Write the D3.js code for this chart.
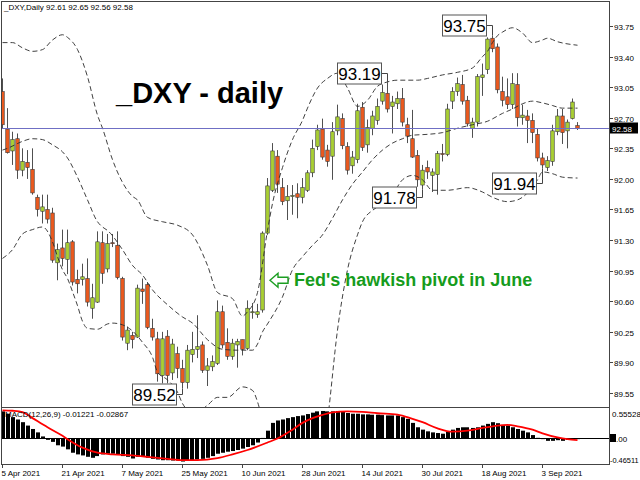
<!DOCTYPE html>
<html><head><meta charset="utf-8">
<script src="https://cdn.jsdelivr.net/npm/d3@7"></script>
<style>body{margin:0;background:#fff}svg{display:block}text{font-family:"Liberation Sans",Arial,sans-serif}</style>
</head><body><svg id="c" width="640" height="480"></svg>
<script>
// ---------- DATA ----------
const opens  = [93.00,92.57,92.32,92.46,92.10,92.19,92.11,91.79,91.63,91.65,91.61,91.04,91.21,91.08,91.28,90.85,90.85,90.86,90.52,90.59,91.27,90.97,91.27,91.24,90.86,90.12,90.21,90.19,90.74,90.79,90.29,90.17,89.75,90.20,89.78,90.00,89.83,89.67,89.99,90.05,90.10,89.81,89.85,89.89,90.48,90.13,89.97,90.10,90.16,90.06,90.48,90.45,90.50,91.38,91.87,92.26,91.90,91.75,91.80,91.83,91.79,91.87,92.07,92.37,92.57,92.33,92.26,92.55,92.69,92.37,92.15,92.22,92.82,92.39,92.58,92.67,92.89,92.98,92.83,92.86,92.92,92.62,92.46,92.27,91.93,92.13,92.04,92.05,92.29,92.28,92.89,93.00,93.08,92.90,92.58,92.65,93.16,93.25,93.61,93.51,93.00,92.94,92.85,93.08,92.70,92.72,92.67,92.51,92.24,92.13,92.20,92.54,92.72,92.55,92.69,92.61];
const highs  = [93.15,92.81,92.54,92.52,92.35,92.33,92.35,91.82,91.82,91.82,91.67,91.26,91.42,91.42,91.30,90.96,91.03,91.09,90.80,91.40,91.40,91.37,91.37,91.40,90.88,90.31,90.25,90.79,90.86,90.82,90.40,90.25,90.25,90.27,90.17,90.08,89.93,90.10,90.25,90.44,90.14,89.95,89.98,90.61,90.55,90.29,90.17,90.17,90.16,90.61,90.58,90.57,91.40,92.01,92.41,92.33,92.01,91.93,91.93,91.95,92.01,92.10,92.45,92.62,92.69,92.39,92.65,92.85,92.75,92.42,92.32,92.86,92.88,92.68,92.78,92.92,93.08,93.10,92.95,93.00,93.04,92.70,92.79,92.33,92.16,92.21,92.12,92.32,92.40,92.86,93.05,93.16,93.19,92.95,92.70,93.20,93.32,93.62,93.64,93.55,93.17,93.15,93.21,93.21,92.85,92.79,92.75,92.58,92.30,92.26,92.62,92.80,92.80,92.68,92.92,92.65];
const lows   = [92.58,92.29,92.16,92.00,92.03,92.00,91.82,91.57,91.49,91.49,91.04,90.84,91.00,90.91,90.78,90.69,90.78,90.54,90.40,90.58,90.80,90.93,91.22,90.85,90.15,90.04,90.06,90.18,90.57,90.28,90.15,89.68,89.66,89.66,89.70,89.72,89.60,89.60,89.90,89.95,89.78,89.63,89.80,89.87,90.06,89.93,89.93,89.84,89.98,90.04,90.40,90.41,90.47,91.36,91.85,91.84,91.70,91.53,91.59,91.55,91.72,91.85,92.02,92.33,92.22,92.14,91.99,92.50,92.34,92.05,92.06,92.18,92.32,92.30,92.50,92.62,92.85,92.76,92.52,92.80,92.60,92.41,92.24,91.91,91.88,92.00,91.85,91.82,92.20,92.26,92.80,92.95,92.85,92.60,92.47,92.60,92.95,93.20,93.45,92.98,92.83,92.80,92.80,92.60,92.62,92.41,92.41,92.20,92.12,92.09,92.15,92.50,92.40,92.35,92.68,92.56];
const closes = [92.62,92.30,92.45,92.10,92.20,92.13,91.84,91.65,91.68,91.54,91.07,91.19,91.09,91.27,90.82,90.80,90.88,90.59,90.64,91.28,90.92,91.26,91.26,90.87,90.19,90.27,90.16,90.75,90.71,90.30,90.19,89.77,90.17,89.75,90.11,89.83,89.67,90.04,90.05,90.08,89.81,89.86,89.91,90.48,90.10,89.97,90.12,90.14,90.05,90.52,90.48,90.48,91.38,91.92,92.32,91.94,91.74,91.80,91.81,91.79,91.90,92.07,92.35,92.56,92.25,92.20,92.54,92.71,92.38,92.10,92.25,92.78,92.36,92.59,92.72,92.83,92.99,92.80,92.88,92.92,92.65,92.49,92.25,91.99,92.10,92.08,92.08,92.29,92.28,92.80,93.00,93.09,92.89,92.63,92.65,93.17,93.19,93.60,93.49,93.02,92.90,92.85,93.09,92.70,92.73,92.67,92.53,92.24,92.16,92.21,92.55,92.72,92.53,92.65,92.88,92.58];

// Bollinger bands (20,2): [bar, price]
const bbUpper = [[0,93.56],[2,93.56],[4,93.50],[6,93.46],[8,93.48],[10,93.59],[12,93.65],[13,93.62],[15,93.48],[17,93.17],[19,92.73],[20,92.58],[22,92.22],[24,91.96],[26,91.80],[27,91.76],[29,91.56],[32,91.51],[35,91.47],[38,91.36],[41,91.01],[43,90.70],[46,90.63],[48,90.43],[49,90.48],[51,90.70],[53,91.41],[54,91.72],[56,92.13],[58,92.45],[60,92.67],[61,92.81],[63,93.04],[65,93.15],[67,93.21],[69,93.04],[71,92.83],[73,92.90],[75,93.06],[77,93.11],[79,93.13],[83,93.13],[85,93.15],[88,93.19],[91,93.22],[94,93.27],[96,93.40],[97,93.46],[98,93.56],[99,93.64],[100,93.68],[102,93.73],[104,93.67],[106,93.56],[108,93.59],[109,93.61],[111,93.57],[115,93.53]];
const bbMiddle = [[0,92.33],[1,92.35],[4,92.43],[6,92.46],[8,92.45],[10,92.39],[12,92.31],[13,92.24],[15,92.02],[17,91.76],[19,91.51],[20,91.45],[21,91.41],[24,91.19],[26,91.01],[28,90.90],[30,90.73],[33,90.56],[36,90.42],[38,90.35],[41,90.16],[44,90.05],[47,90.04],[50,90.04],[51,90.11],[52,90.25],[53,90.34],[56,90.65],[58,90.96],[60,91.11],[62,91.24],[64,91.36],[66,91.55],[68,91.76],[70,91.94],[72,92.08],[74,92.22],[76,92.33],[78,92.41],[80,92.46],[82,92.50],[85,92.51],[88,92.53],[91,92.58],[94,92.62],[97,92.66],[100,92.75],[102,92.80],[104,92.86],[106,92.89],[108,92.87],[110,92.84],[112,92.81],[115,92.81]];
const bbLower = [[0,91.09],[2,91.19],[4,91.37],[6,91.42],[8,91.45],[10,91.28],[11,91.11],[12,90.96],[13,90.86],[14,90.71],[15,90.55],[16,90.37],[17,90.29],[19,90.28],[21,90.34],[22,90.35],[24,90.33],[26,90.26],[28,90.13],[30,89.96],[31,89.79],[33,89.70],[35,89.56],[36,89.43],[37,89.36],[39,89.34],[41,89.41],[43,89.50],[45,89.50],[48,89.62],[50,89.58],[51,89.45],[52,89.24],[54,88.78],[57,88.10],[60,87.87],[63,88.55],[65,89.24],[67,90.27],[69,90.96],[71,91.36],[72,91.51],[74,91.64],[75,91.68],[78,91.82],[80,91.99],[82,92.04],[84,91.99],[86,91.87],[89,91.87],[93,91.90],[96,91.85],[98,91.79],[101,91.74],[103,91.76],[105,91.84],[107,91.99],[108,92.08],[110,92.06],[112,92.02],[115,92.01]];

// MACD(12,26,9)
const macdMain = [0.494,0.451,0.389,0.346,0.297,0.235,0.173,0.111,0.037,-0.025,
 -0.062,-0.124,-0.148,-0.198,-0.260,-0.290,-0.309,-0.334,-0.352,-0.321,
 -0.290,-0.278,-0.278,-0.290,-0.321,-0.334,-0.365,-0.334,-0.321,-0.352,
 -0.371,-0.383,-0.396,-0.396,-0.402,-0.402,-0.420,-0.402,-0.396,-0.383,
 -0.371,-0.352,-0.321,-0.278,-0.260,-0.241,-0.229,-0.210,-0.185,-0.155,
 -0.124,-0.074,0.010,0.142,0.284,0.328,0.346,0.371,0.389,0.408,
 0.420,0.445,0.470,0.494,0.501,0.494,0.494,0.501,0.482,0.464,
 0.451,0.451,0.439,0.439,0.433,0.433,0.426,0.420,0.420,0.420,
 0.389,0.358,0.284,0.204,0.161,0.130,0.111,0.099,0.087,0.124,
 0.161,0.192,0.204,0.204,0.192,0.204,0.235,0.266,0.297,0.278,
 0.247,0.235,0.204,0.173,0.142,0.111,0.062,0.012,-0.012,-0.043,
 -0.043,-0.031,-0.043,-0.025,-0.012,-0.01221];
const macdSignal = [[0,0.513],[2,0.505],[4,0.482],[6,0.371],[9,0.204],[12,0.049],[13,-0.012],[16,-0.167],[19,-0.260],[22,-0.290],[26,-0.309],[29,-0.334],[33,-0.371],[36,-0.396],[39,-0.396],[43,-0.358],[46,-0.290],[49,-0.210],[53,-0.074],[55,0.0],[58,0.161],[60,0.284],[62,0.370],[64,0.430],[66,0.475],[69,0.494],[72,0.485],[75,0.460],[79,0.435],[82,0.358],[84,0.297],[87,0.185],[90,0.124],[93,0.142],[96,0.192],[99,0.235],[101,0.247],[103,0.222],[106,0.161],[108,0.093],[111,0.019],[113,-0.012],[115,-0.02867]];

const dateTickBars = [0,12,24,36,48,60,72,84,96,108];
const dateTickLabels = ["5 Apr 2021","21 Apr 2021","7 May 2021","25 May 2021","10 Jun 2021","28 Jun 2021","14 Jul 2021","30 Jul 2021","18 Aug 2021","3 Sep 2021"];
const priceTicks = [93.75,93.40,93.05,92.70,92.35,92.00,91.65,91.30,90.95,90.60,90.25,89.90,89.55];
const macdRange = [-0.46511, 0.55528];

const annoValues = [93.75, 93.19, 91.78, 91.94, 89.52];
const annoBars   = [98, 77, 84, 108, 36];
const annoSides  = ["high","high","low","low","low"];
const fedBar = 52, fedPrice = 90.84;
const fedText = "Fed's hawkish pivot in June";
const titleText = "_DXY - daily";
const headerText = "_DXY,Daily  92.61 92.65 92.56 92.58";
const macdText = "MACD(12,26,9) -0.01221 -0.02867";

// ---------- DRAW ----------
const bull = "#a9cf34", bear = "#eb5a1f";
const svg = d3.select("#c");
svg.append("rect").attr("width",640).attr("height",480).attr("fill","#fff");

const x  = d3.scaleLinear().domain([0, 115]).range([2.5, 577.5]);
const y  = d3.scaleLinear().domain([89.55, 93.75]).range([393, 26]);
const ym = d3.scaleLinear().domain(macdRange).range([464, 408]);

const defs = svg.append("defs");
defs.append("clipPath").attr("id","mc").append("rect").attr("x",2).attr("y",2).attr("width",607).attr("height",405);
defs.append("clipPath").attr("id","sc").append("rect").attr("x",2).attr("y",408).attr("width",607).attr("height",56);

const main = svg.append("g").attr("clip-path","url(#mc)");
const idx = d3.range(opens.length);

// candles
main.append("g").selectAll("line").data(idx).join("line")
  .attr("x1",i=>x(i)).attr("x2",i=>x(i))
  .attr("y1",i=>y(highs[i])).attr("y2",i=>y(lows[i]))
  .attr("stroke","#505050").attr("stroke-width",1);
main.append("g").selectAll("rect").data(idx).join("rect")
  .attr("x",i=>x(i)-1.75).attr("width",3.5)
  .attr("y",i=>y(Math.max(opens[i],closes[i])))
  .attr("height",i=>Math.max(1,Math.abs(y(opens[i])-y(closes[i]))))
  .attr("fill",i=>closes[i]>=opens[i]?bull:bear)
  .attr("stroke","#3a3a3a").attr("stroke-width",0.6);

// bands
const bandLine = d3.line().x(d=>x(d[0])).y(d=>y(d[1])).curve(d3.curveMonotoneX);
[bbUpper,bbMiddle,bbLower].forEach(b=>{
  main.append("path").attr("d",bandLine(b)).attr("fill","none")
    .attr("stroke","#2a2a2a").attr("stroke-width",0.9).attr("stroke-dasharray","5,3");
});

// last price line
const lastClose = closes[closes.length-1];
const ly = Math.round(y(lastClose))+0.5;
main.append("line").attr("x1",0).attr("x2",609).attr("y1",ly).attr("y2",ly)
  .attr("stroke","#6f6fc4").attr("stroke-width",1);

// annotations
annoValues.forEach((v,k)=>{
  const b = annoBars[k];
  const bx = x(b);
  const cy = Math.round(y(v)-1.5)+0.5;
  const ext = annoSides[k]==="high" ? y(highs[b]) : y(lows[b]);
  const right = Math.round(bx-7)+0.5;
  const w=44, h=21;
  main.append("path").attr("d",`M${right},${cy}H${bx}V${ext}`).attr("fill","none").attr("stroke","#444").attr("stroke-width",1);
  main.append("rect").attr("x",right-w).attr("y",cy-h/2).attr("width",w).attr("height",h)
    .attr("fill","#fff").attr("stroke","#555").attr("stroke-width",1);
  main.append("text").attr("x",right-w/2).attr("y",cy+6).attr("text-anchor","middle")
    .attr("font-size",17).attr("fill","#000").text(v.toFixed(2));
});

// Fed arrow + text
{
  const tx = x(fedBar)+7.5, ty = y(fedPrice);
  const p = d3.path();
  p.moveTo(tx,ty); p.lineTo(tx+8,ty-7); p.lineTo(tx+8,ty-3); p.lineTo(tx+18,ty-3);
  p.lineTo(tx+18,ty+3); p.lineTo(tx+8,ty+3); p.lineTo(tx+8,ty+7); p.closePath();
  main.append("path").attr("d",p.toString()).attr("fill","#fff").attr("stroke","#1c9e22").attr("stroke-width",1.4);
  main.append("text").attr("x",tx+24).attr("y",ty+6).attr("font-size",18).attr("font-weight","bold")
    .attr("fill","#169c1c").text(fedText);
}

// title
svg.append("text").attr("x",116).attr("y",103).attr("font-size",29).attr("font-weight","bold").attr("fill","#000").text(titleText);
svg.append("text").attr("x",4).attr("y",10).attr("font-size",8).attr("fill","#000").text(headerText);

// MACD panel
const sub = svg.append("g").attr("clip-path","url(#sc)");
sub.append("g").selectAll("rect").data(idx).join("rect")
  .attr("x",i=>Math.round(x(i)-2)).attr("width",4)
  .attr("y",i=>Math.min(ym(0),ym(macdMain[i])))
  .attr("height",i=>Math.abs(ym(macdMain[i])-ym(0)))
  .attr("fill","#000");
const z0 = Math.round(ym(0))+0.5;
sub.append("line").attr("x1",2).attr("x2",609).attr("y1",z0).attr("y2",z0).attr("stroke","#000");
sub.append("path").attr("d",d3.line().x(d=>x(d[0])).y(d=>ym(d[1])).curve(d3.curveMonotoneX)(macdSignal))
  .attr("fill","none").attr("stroke","#ff0000").attr("stroke-width",1.8);
svg.append("text").attr("x",5).attr("y",417).attr("font-size",8).attr("fill","#000").text(macdText);

// frames
const frame = svg.append("g").attr("fill","none").attr("stroke","#444").attr("shape-rendering","crispEdges");
frame.append("rect").attr("x",1.5).attr("y",1.5).attr("width",608).attr("height",406);
frame.append("rect").attr("x",1.5).attr("y",407.5).attr("width",608).attr("height",57);

// right price axis
const ax = svg.append("g");
priceTicks.forEach(t=>{
  const ty = Math.round(y(t))+0.5;
  ax.append("line").attr("x1",609).attr("x2",613).attr("y1",ty).attr("y2",ty).attr("stroke","#444");
  ax.append("text").attr("x",614).attr("y",ty+3).attr("font-size",8).attr("fill","#000").text(t.toFixed(2));
});
ax.append("rect").attr("x",610).attr("y",ly-6).attr("width",28).attr("height",11).attr("fill","#000");
ax.append("text").attr("x",612).attr("y",ly+3).attr("font-size",8).attr("fill","#fff").text(lastClose.toFixed(2));

// MACD axis labels
ax.append("text").attr("x",612).attr("y",ym(macdRange[1])+9).attr("font-size",8).text(macdRange[1].toFixed(5));
ax.append("rect").attr("x",610).attr("y",z0-4.5).attr("width",6).attr("height",8).attr("fill","#000");
ax.append("text").attr("x",616).attr("y",z0+3).attr("font-size",8).text(".00");
ax.append("text").attr("x",610).attr("y",ym(macdRange[0])-1).attr("font-size",7.4).text(macdRange[0].toFixed(5));

// date axis
dateTickBars.forEach((b,k)=>{
  const tx = Math.round(x(b))-0.5;
  ax.append("line").attr("x1",tx).attr("x2",tx).attr("y1",465).attr("y2",468).attr("stroke","#444");
  ax.append("text").attr("x",x(b)-1).attr("y",476).attr("font-size",8).attr("fill","#000").text(dateTickLabels[k]);
});
</script></body></html>
